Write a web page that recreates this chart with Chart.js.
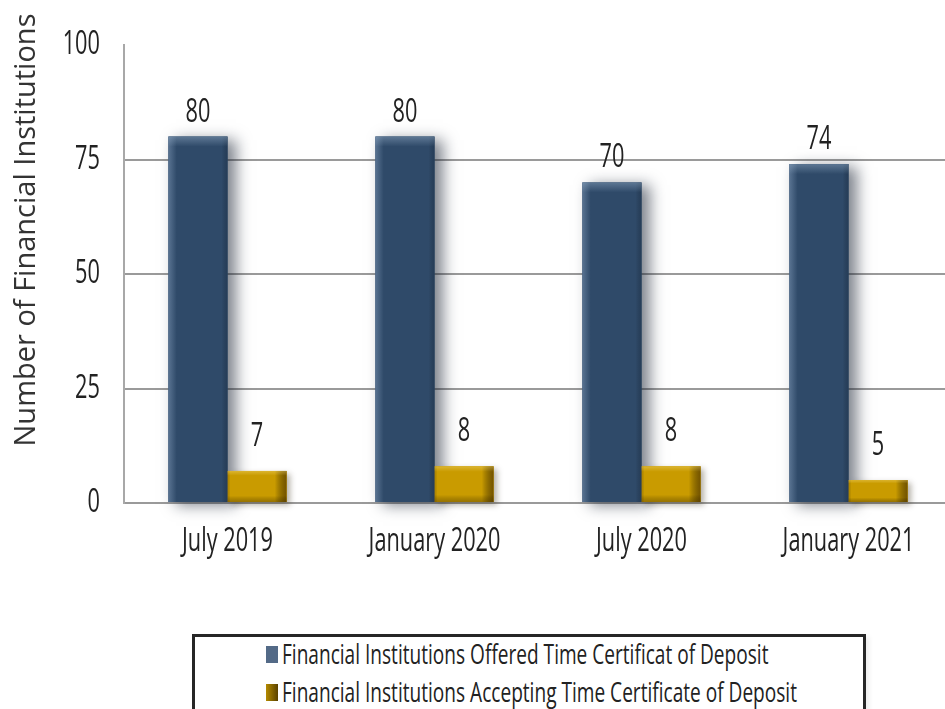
<!DOCTYPE html>
<html>
<head>
<meta charset="utf-8">
<script src="https://cdn.jsdelivr.net/npm/chart.js@4/dist/chart.umd.min.js"></script>
<style>
  html, body { margin: 0; padding: 0; background: #fff; overflow: hidden; width: 945px; height: 709px; }
  #wrap { position: relative; width: 952px; height: 709px; }
  #c { position: absolute; left: 0; top: 0; }
  #legend {
    position: absolute; left: 192px; top: 634px; width: 674px; height: 110px;
    border: 3px solid #262626; box-sizing: border-box; background: #fff;
    box-shadow: 3px 3px 5px rgba(0,0,0,0.08);
    font-family: "Open Sans", sans-serif;
    font-size: 26.5px; color: #222;
  }
  .li { position: absolute; left: 71px; display: flex; align-items: center; white-space: nowrap; }
  .sw { width: 12px; height: 17px; margin-right: 4px; flex: none; }
  .tx { display: inline-block; transform: scaleX(0.72); transform-origin: left center; }
</style>
</head>
<body>
<div id="wrap">
  <canvas id="c" width="952" height="600"></canvas>
  <div id="legend"></div>
</div>
<script>
// ---- data ----
const categories = ["July 2019", "January 2020", "July 2020", "January 2021"];
const offeredValues = [80, 80, 70, 74];
const acceptingValues = [7, 8, 8, 5];
const seriesNames = [
  "Financial Institutions Offered Time Certificat of Deposit",
  "Financial Institutions Accepting Time Certificate of Deposit"
];
const yTicks = [0, 25, 50, 75, 100];
const yTitle = "Number of Financial Institutions";

// ---- styles ----
const BLUE = "#2f4a69";
const GOLD = "#c99b00";
const FONT = '"Open Sans", sans-serif';
const CONDENSE = 0.68;

// condensed text rendering on the canvas (emulates a condensed typeface)
const canvas = document.getElementById("c");
const ctx0 = canvas.getContext("2d");
const origFillText = ctx0.fillText;
ctx0.fillText = function (text, x, y, maxWidth) {
  if (this.__noCondense) {
    return maxWidth === undefined ? origFillText.call(this, text, x, y) : origFillText.call(this, text, x, y, maxWidth);
  }
  this.save();
  this.translate(x, y);
  this.scale(CONDENSE, 1);
  if (maxWidth === undefined) origFillText.call(this, text, 0, 0);
  else origFillText.call(this, text, 0, 0, maxWidth / CONDENSE);
  this.restore();
};

// shadows and shading of bars + value labels
const barPlugin = {
  id: "barDecor",
  beforeDatasetsDraw(chart) {
    const ctx = chart.ctx;
    chart.data.datasets.forEach((ds, di) => {
      const meta = chart.getDatasetMeta(di);
      meta.data.forEach(el => {
        const p = el.getProps(["x", "y", "base", "width"], true);
        ctx.save();
        ctx.shadowColor = di === 0 ? "rgba(20,30,45,0.55)" : "rgba(40,30,0,0.35)";
        ctx.shadowBlur = di === 0 ? 14 : 6;
        ctx.shadowOffsetX = di === 0 ? 8 : 3;
        ctx.shadowOffsetY = 3;
        ctx.fillStyle = ds.backgroundColor;
        ctx.fillRect(p.x - p.width / 2, p.y, p.width, p.base - p.y);
        ctx.restore();
      });
    });
  },
  afterDatasetsDraw(chart) {
    const ctx = chart.ctx;
    chart.data.datasets.forEach((ds, di) => {
      const meta = chart.getDatasetMeta(di);
      meta.data.forEach((el, i) => {
        const p = el.getProps(["x", "y", "base", "width"], true);
        const l = p.x - p.width / 2, w = p.width, t = p.y, h = p.base - p.y;
        ctx.save();
        if (di === 0) {
          let g = ctx.createLinearGradient(l, 0, l + w, 0);
          g.addColorStop(0, "rgba(140,165,195,0.45)");
          g.addColorStop(0.14, "rgba(140,165,195,0)");
          g.addColorStop(0.9, "rgba(0,0,0,0)");
          g.addColorStop(1, "rgba(10,20,35,0.25)");
          ctx.fillStyle = g;
          ctx.fillRect(l, t, w, h);
          let g2 = ctx.createLinearGradient(0, t, 0, t + 10);
          g2.addColorStop(0, "rgba(150,175,200,0.45)");
          g2.addColorStop(1, "rgba(150,175,200,0)");
          ctx.fillStyle = g2;
          ctx.fillRect(l, t, w, Math.min(10, h));
        } else {
          let g = ctx.createLinearGradient(l, 0, l + w, 0);
          g.addColorStop(0, "rgba(90,60,0,0.25)");
          g.addColorStop(0.05, "rgba(0,0,0,0)");
          g.addColorStop(0.8, "rgba(0,0,0,0)");
          g.addColorStop(1, "rgba(70,45,0,0.65)");
          ctx.fillStyle = g;
          ctx.fillRect(l, t, w, h);
          let g2 = ctx.createLinearGradient(0, t, 0, t + h);
          g2.addColorStop(0, "rgba(255,230,140,0.35)");
          g2.addColorStop(0.15, "rgba(255,230,140,0)");
          g2.addColorStop(0.8, "rgba(0,0,0,0)");
          g2.addColorStop(1, "rgba(60,40,0,0.35)");
          ctx.fillStyle = g2;
          ctx.fillRect(l, t, w, h);
        }
        ctx.fillStyle = "#222";
        ctx.font = "32px " + FONT;
        ctx.textAlign = "center";
        ctx.textBaseline = "alphabetic";
        ctx.fillText(String(ds.data[i]), p.x, p.y - (di === 0 ? 15 : 25));
        ctx.restore();
      });
    });
  }
};

// y-axis title
const titlePlugin = {
  id: "yTitle",
  afterDraw(chart) {
    const ctx = chart.ctx;
    ctx.save();
    ctx.__noCondense = true;
    ctx.translate(35, chart.chartArea.top + 185);
    ctx.rotate(-Math.PI / 2);
    ctx.font = '29px "Open Sans", sans-serif';
    ctx.fillStyle = "#333";
    ctx.textAlign = "center";
    ctx.textBaseline = "alphabetic";
    ctx.fillText(yTitle, 0, 0);
    ctx.__noCondense = false;
    ctx.restore();
  }
};

new Chart(canvas, {
  type: "bar",
  data: {
    labels: categories,
    datasets: [
      { label: seriesNames[0], data: offeredValues, backgroundColor: BLUE, borderWidth: 0 },
      { label: seriesNames[1], data: acceptingValues, backgroundColor: GOLD, borderWidth: 0 }
    ]
  },
  options: {
    responsive: false,
    animation: false,
    devicePixelRatio: 1,
    layout: { padding: { top: 45, left: 0, right: 0, bottom: 0 } },
    datasets: { bar: { categoryPercentage: 0.571, barPercentage: 1.0 } },
    plugins: { legend: { display: false }, tooltip: { enabled: false } },
    scales: {
      x: {
        grid: { display: false },
        border: { display: true, color: "#9a9a9a", width: 2 },
        ticks: { font: { size: 32, family: FONT }, color: "#222", padding: 12, maxRotation: 0, autoSkip: false },
        afterFit(s) { s.height = 97; s.paddingLeft = 0; s.paddingRight = 0; }
      },
      y: {
        min: 0, max: 100,
        afterBuildTicks(s) { s.ticks = yTicks.map(v => ({ value: v })); },
        grid: {
          drawTicks: false,
          lineWidth: 2,
          color: c => (c.tick && c.tick.value === 100) ? "rgba(0,0,0,0)" : "#9a9a9a"
        },
        border: { display: true, color: "#a8a8a8", width: 2 },
        ticks: { font: { size: 32, family: FONT }, color: "#222", padding: 24 },
        afterFit(s) { s.width = 124; }
      }
    }
  },
  plugins: [barPlugin, titlePlugin]
});

// legend (HTML) built from series names
const legendColors = [
  "#536a87",
  "linear-gradient(to right, #b48a00, #5a4200)"
];
const lg = document.getElementById("legend");
seriesNames.forEach((name, i) => {
  const row = document.createElement("div");
  row.className = "li";
  row.style.top = (i === 0 ? -1 : 37) + "px";
  const sw = document.createElement("span");
  sw.className = "sw";
  sw.style.background = legendColors[i];
  const tx = document.createElement("span");
  tx.className = "tx";
  tx.textContent = name;
  row.appendChild(sw);
  row.appendChild(tx);
  lg.appendChild(row);
});
</script>
</body>
</html>
